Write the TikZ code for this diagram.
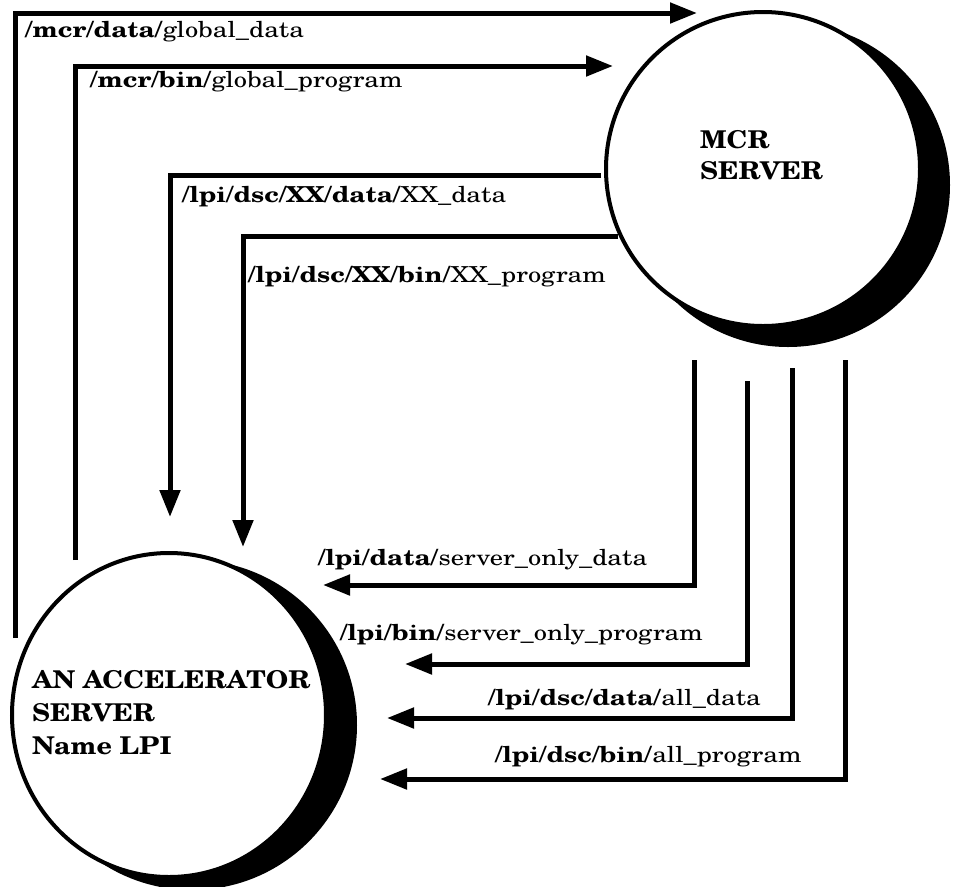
\documentclass[tikz,border=0pt]{standalone}
\usepackage{fontspec}
\setmainfont{texgyreschola}[Extension=.otf, UprightFont=*-regular, BoldFont=*-bold]
\newfontfamily\pathfont{texgyreschola}[Extension=.otf, UprightFont=*-regular, BoldFont=*-bold, FakeStretch=1.2]
\newfontfamily\namefont{texgyreschola}[Extension=.otf, UprightFont=*-regular, BoldFont=*-bold, FakeStretch=1.1]
\usetikzlibrary{arrows.meta,shapes.geometric}

\begin{document}
\begin{tikzpicture}[x=1pt,y=-1pt,
  flow/.style={line width=5pt, line join=miter, -{Triangle[length=27pt,width=20pt]}},
  pathlabel/.style={anchor=base west, inner sep=0pt, font=\pathfont\fontsize{22}{24}\selectfont},
  srvlabel/.style={anchor=north west, inner sep=0pt, align=left, font=\namefont\fontsize{24.5}{33}\selectfont\bfseries},
  server/.style={draw, fill=white, line width=4pt, inner sep=0pt}]
\useasboundingbox (0,0) rectangle (954,887);

% MCR server: offset black shadow, then the white disc on top
\fill (788,185) circle[radius=162pt];
\node[server, circle, minimum size=314pt] (mcr) at (763,169) {};
\node[srvlabel, font=\namefont\fontsize{24.5}{31}\selectfont\bfseries] (mcrtext) at (700,130) {MCR\\SERVER};

% accelerator server LPI
\fill (192,725) circle[radius=165pt];
\node[server, ellipse, minimum width=314pt, minimum height=324pt] (lpi) at (169,715) {};
\node[srvlabel] (lpitext) at (32,670) {AN ACCELERATOR\\SERVER\\Name LPI};

% free ends of the flows
\coordinate (gd0) at (15,638);   \coordinate (gd1) at (697,13);
\coordinate (gp0) at (75,560);   \coordinate (gp1) at (613,66);
\coordinate (xd0) at (601,175);  \coordinate (xd1) at (170,517);
\coordinate (xp0) at (618,236);  \coordinate (xp1) at (243,547);
\coordinate (sd0) at (694,360);  \coordinate (sd1) at (323,585);
\coordinate (sp0) at (747,381);  \coordinate (sp1) at (405,664);
\coordinate (ad0) at (792,368);  \coordinate (ad1) at (387,718);
\coordinate (ap0) at (845,360);  \coordinate (ap1) at (380,779);

% global trees, LPI side up to MCR
\draw[flow] (gd0) |- (gd1);
\draw[flow] (gp0) |- (gp1);
% per-server trees, MCR down to LPI
\draw[flow] (xd0) -| (xd1);
\draw[flow] (xp0) -| (xp1);
\draw[flow] (sd0) |- (sd1);
\draw[flow] (sp0) |- (sp1);
\draw[flow] (ad0) |- (ad1);
\draw[flow] (ap0) |- (ap1);

% path labels
\node[pathlabel] (tgd) at (25,37)   {\textbf{/mcr/data/}global\_data};
\node[pathlabel] (tgp) at (90,87)   {\textbf{/mcr/bin/}global\_program};
\node[pathlabel] (txd) at (182,202) {\textbf{/lpi/dsc/XX/data/}XX\_data};
\node[pathlabel] (txp) at (248,282) {\textbf{/lpi/dsc/XX/bin/}XX\_program};
\node[pathlabel] (tsd) at (318,565) {\textbf{/lpi/data/}server\_only\_data};
\node[pathlabel] (tsp) at (340,640) {\textbf{/lpi/bin/}server\_only\_program};
\node[pathlabel] (tad) at (488,705) {\textbf{/lpi/dsc/data/}all\_data};
\node[pathlabel] (tap) at (495,762) {\textbf{/lpi/dsc/bin/}all\_program};
\end{tikzpicture}
\end{document}
